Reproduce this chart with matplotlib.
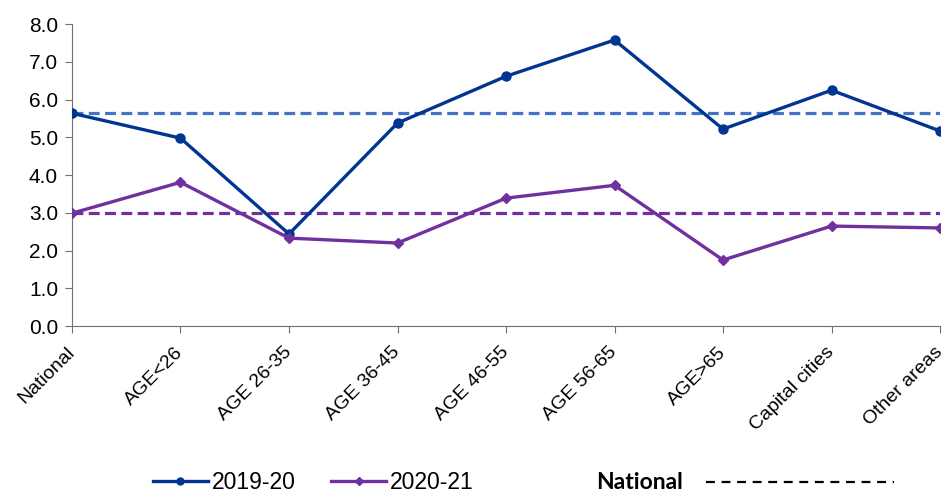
import matplotlib
matplotlib.use("Agg")
import matplotlib.pyplot as plt
from matplotlib.lines import Line2D

plt.rcParams['font.family'] = ['Liberation Sans', 'DejaVu Sans']

# categorias e valores
categorias = ["National", "AGE<26", "AGE 26-35", "AGE 36-45", "AGE 46-55",
              "AGE 56-65", "AGE>65", "Capital cities", "Other areas"]
serie_2019 = [5.64, 4.98, 2.44, 5.38, 6.62, 7.58, 5.22, 6.25, 5.17]
serie_2020 = [2.99, 3.81, 2.33, 2.20, 3.39, 3.73, 1.75, 2.65, 2.60]
nacional_2019 = 5.64
nacional_2020 = 2.99

azul = "#003591"
roxo = "#7030A0"
azul_claro = "#4472C4"

fig = plt.figure(figsize=(9.46, 4.94), dpi=100)
ax = fig.add_axes([0.0761, 0.340, 0.9176, 0.611])

x = list(range(len(categorias)))

# linhas nacionais tracejadas
ax.axhline(nacional_2019, color=azul_claro, lw=2.3, ls=(0, (3.4, 1.7)), zorder=1)
ax.axhline(nacional_2020, color=roxo, lw=2.3, ls=(0, (3.4, 1.7)), zorder=1)

# series principais
ax.plot(x, serie_2019, color=azul, lw=2.4, marker='o', ms=6.5, zorder=3)
ax.plot(x, serie_2020, color=roxo, lw=2.4, marker='D', ms=5, zorder=3)

ax.set_xlim(0, len(categorias) - 1)
ax.set_ylim(0, 8)
ax.set_yticks([0, 1, 2, 3, 4, 5, 6, 7, 8])
ax.set_yticklabels(["%.1f" % v for v in range(9)])
ax.set_xticks(x)
ax.set_xticklabels(categorias, rotation=45, ha='right', va='center',
                   rotation_mode='anchor', fontsize=14)

ax.spines['top'].set_visible(False)
ax.spines['right'].set_visible(False)
ax.spines['left'].set_color('#707070')
ax.spines['bottom'].set_color('#707070')
ax.tick_params(axis='both', colors='#707070', labelcolor='black',
               length=5, direction='out')
ax.tick_params(axis='y', pad=5, labelsize=15)
ax.tick_params(axis='x', pad=12)
for s in ax.spines.values():
    s.set_zorder(0)

# legenda na parte de baixo
h1 = Line2D([], [], color=azul, lw=2.4, marker='o', ms=5)
h2 = Line2D([], [], color=roxo, lw=2.4, marker='D', ms=4)
fig.legend([h1, h2], ["2019-20", "2020-21"], loc='center left',
           bbox_to_anchor=(0.1617, 0.024), ncol=2, frameon=False, fontsize=16.5,
           handlelength=2.4, handletextpad=0.17, columnspacing=1.55,
           borderaxespad=0, borderpad=0)
fig.text(0.630, 0.024, "National", fontsize=16.5, fontweight='bold', va='center',
         family=['Lato', 'DejaVu Sans'])
fig.add_artist(Line2D([0.746, 0.945], [0.024, 0.024], transform=fig.transFigure,
                      color='black', lw=1.6, ls=(0, (4, 3))))

fig.savefig("out.png", dpi=100)
